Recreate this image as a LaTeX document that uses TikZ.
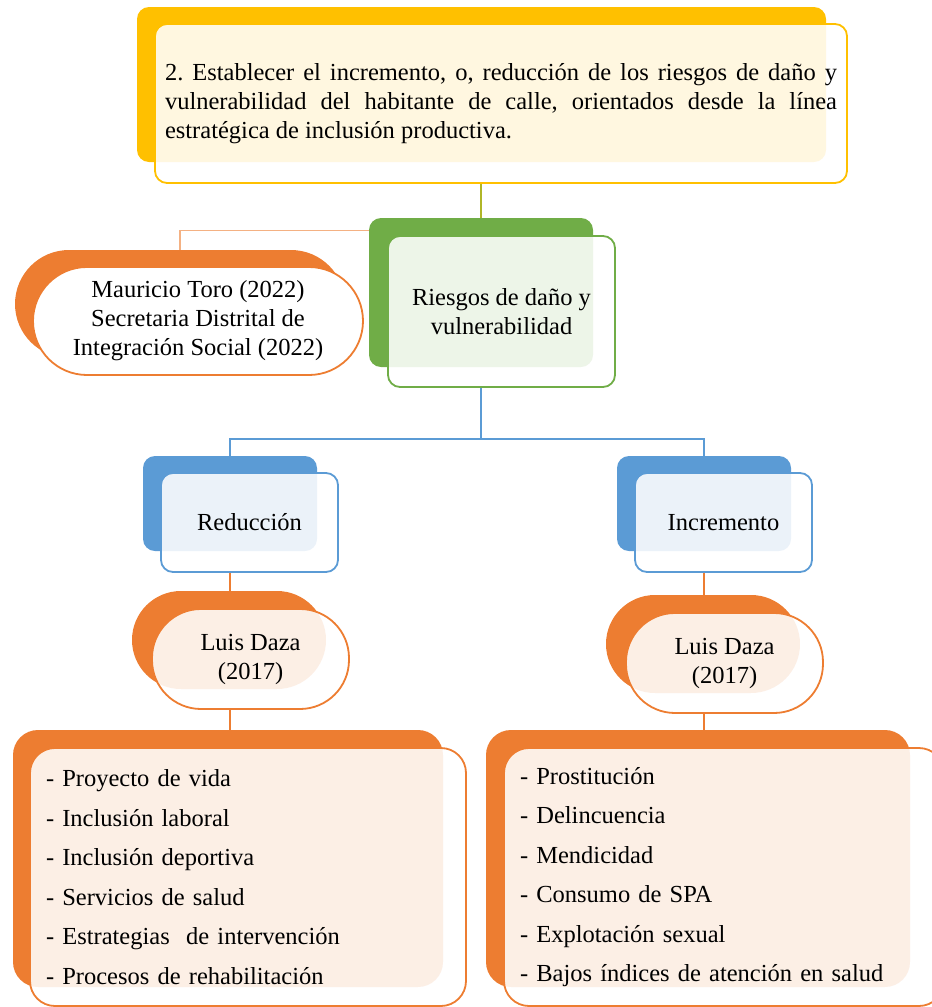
\documentclass[tikz,border=0pt]{standalone}
\usepackage{fontspec}
\setmainfont{Liberation Serif}
\usepackage{tikz}
\usetikzlibrary{calc}

\definecolor{amarillo}{HTML}{FFC000}
\definecolor{verde}{HTML}{70AD47}
\definecolor{azul}{HTML}{5B9BD5}
\definecolor{naranja}{HTML}{ED7D31}

\frenchspacing

\begin{document}
\begin{tikzpicture}[x=1pt, y=-1pt,
    fondo/.style={fill=#1, rounded corners=12pt, inner sep=0pt},
    caja/.style={draw=#1, line width=1.8pt, fill=white, fill opacity=0.88, text opacity=1,
      rounded corners=12pt, inner sep=0pt, align=center, font=\fontsize{24.5}{29}\selectfont},
    lista/.style={caja=naranja, rounded corners=25pt, minimum height=258pt, inner xsep=16pt,
      align=left, font=\fontsize{24.5}{39.5}\selectfont}]

\useasboundingbox (0, 0) rectangle (932, 1007);
\clip (0, 0) rectangle (932, 1007);




\node (meta-fondo) at (481.5, 84.5) [fondo=amarillo, minimum width=689pt, minimum height=155pt] {};
\node (meta) at (501, 103.5) [caja=amarillo, minimum width=692pt, minimum height=159pt, text width=672pt, align=justify]
  {2. Establecer el incremento, o, reducción de los riesgos de daño y\linebreak
   vulnerabilidad del habitante de calle, orientados desde la línea\linebreak
   estratégica de inclusión productiva.};



\node (riesgo-fondo) at (481, 292.5) [fondo=verde, minimum width=224pt, minimum height=149pt] {};
\node (riesgo) at (501.5, 311.5) [caja=verde, minimum width=227pt, minimum height=151pt]
  {Riesgos de daño y\\vulnerabilidad};


\node (mau-fondo) at (180, 304) [fondo=naranja, rounded corners=54pt, minimum width=330pt, minimum height=108pt] {};
\node (mau) at (198, 321) [caja=naranja, fill opacity=1, rounded corners=54pt, minimum width=330pt, minimum height=108pt]
  {Mauricio Toro (2022)\\Secretaria Distrital de\\Integración Social (2022)};



\node (red-fondo) at (230, 503.5) [fondo=azul, minimum width=174pt, minimum height=95pt] {};
\node (red) at (249.5, 522.5) [caja=azul, minimum width=177pt, minimum height=99pt] {Reducción};

\node (inc-fondo) at (704, 503.5) [fondo=azul, minimum width=174pt, minimum height=95pt] {};
\node (inc) at (723.5, 522.5) [caja=azul, minimum width=177pt, minimum height=99pt] {Incremento};



\node (luisL-fondo) at (229, 640) [fondo=naranja, rounded corners=49pt, minimum width=194pt, minimum height=98pt] {};
\node (luisL) at (250.5, 659) [caja=naranja, rounded corners=49pt, minimum width=197pt, minimum height=100pt]
  {Luis Daza\\(2017)};

\node (luisR-fondo) at (703, 644) [fondo=naranja, rounded corners=49pt, minimum width=194pt, minimum height=98pt] {};
\node (luisR) at (724.5, 663) [caja=naranja, rounded corners=49pt, minimum width=197pt, minimum height=100pt]
  {Luis Daza\\(2017)};



\node (listaL-fondo) at (228, 858.5) [fondo=naranja, rounded corners=25pt, minimum width=430pt, minimum height=257pt] {};
\node (listaL) at (248, 877) [lista, minimum width=436pt, text width=404pt]
  {- Proyecto de vida\\- Inclusión laboral\\- Inclusión deportiva\\- Servicios de salud\\- Estrategias\ \ de intervención\\- Procesos de rehabilitación};

\node (listaR-fondo) at (698, 858.5) [fondo=naranja, rounded corners=25pt, minimum width=424pt, minimum height=257pt] {};
\node (listaR) at (724, 877) [lista, minimum width=440pt, text width=408pt]
  {- Prostitución\\- Delincuencia\\- Mendicidad\\- Consumo de SPA\\- Explotación sexual\\- Bajos índices de atención en salud};




\draw [amarillo!45!verde, line width=2.5pt] (meta.south -| riesgo-fondo.north) -- (riesgo-fondo.north);

\draw [naranja!60, line width=1.2pt] (mau-fondo.north) |- ([yshift=-13pt]riesgo-fondo.north west);

\coordinate (bus) at (481, 439);
\draw [azul, line width=2pt] (riesgo-fondo.center |- riesgo.south) -- (bus);
\draw [azul, line width=2pt] (red-fondo.north) |- (bus) -| (inc-fondo.north);

\draw [naranja, line width=1.5pt] (red-fondo.center |- red.south) -- (red-fondo.center |- luisL-fondo.north);
\draw [naranja, line width=1.5pt] (red-fondo.center |- luisL.south) -- (red-fondo.center |- listaL-fondo.north);

\draw [naranja, line width=1.5pt] (inc-fondo.center |- inc.south) -- (inc-fondo.center |- luisR-fondo.north);
\draw [naranja, line width=1.5pt] (inc-fondo.center |- luisR.south) -- (inc-fondo.center |- listaR-fondo.north);


\end{tikzpicture}
\end{document}
